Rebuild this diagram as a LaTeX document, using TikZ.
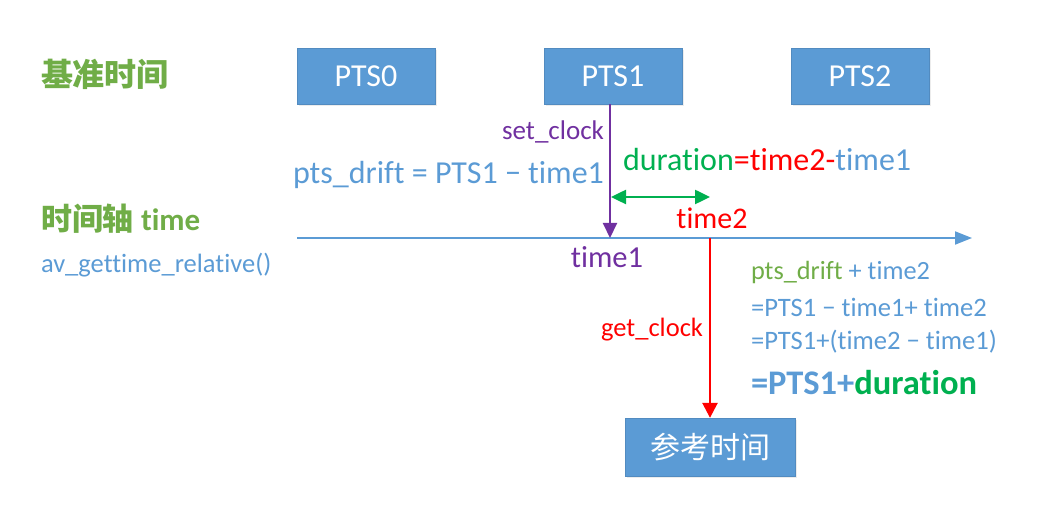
\documentclass[tikz,border=0pt]{standalone}
\usepackage{fontspec}
\setmainfont{Carlito}[Ligatures={NoCommon}]
\newfontfamily\cjk{Noto Sans CJK SC}
\usetikzlibrary{arrows.meta,shadows}
\definecolor{boxblue}{HTML}{5B9BD5}
\definecolor{txtblue}{HTML}{5B9BD5}
\definecolor{hdrgreen}{HTML}{70AD47}
\definecolor{durgreen}{HTML}{00B050}
\definecolor{ppl}{HTML}{7030A0}
\definecolor{rd}{HTML}{FF0000}
\newcommand{\fs}[1]{\fontsize{#1}{#1}\selectfont}
\tikzset{
  ptsbox/.style={fill=boxblue, draw=boxblue!90!black, line width=0.3pt, text=white,
    minimum width=138pt, minimum height=56pt, inner sep=0pt, font=\fs{32},
    drop shadow={opacity=0.15, shadow xshift=1.5pt, shadow yshift=-2.5pt}},
  lbl/.style={inner sep=0pt, outer sep=0pt},
}
\begin{document}
\begin{tikzpicture}[x=1pt,y=-1pt]
\useasboundingbox (0,0) rectangle (1058,510);
% boxes
\node[ptsbox] (p0) at (366,76) {PTS0};
\node[ptsbox] (p1) at (613,76) {PTS1};
\node[ptsbox] (p2) at (860,76) {PTS2};
\node[ptsbox, minimum width=170pt, minimum height=58pt, font=\cjk\fs{30}] (ref) at (710,447) {参考时间};
% coordinates
\coordinate (axL) at (297,238);
\coordinate (axR) at (972,238);
\coordinate (t1) at (610,238);
\coordinate (t2) at (710,238);
\coordinate (d1) at (611,197);
\coordinate (d2) at (710,197);
% axis
\draw[txtblue, line width=2pt, -{Triangle[width=13pt,length=17pt]}] (axL) -- (axR);
% set_clock arrow
\draw[ppl, line width=2pt, -{Triangle[width=14pt,length=15pt]}] (t1 |- p1.south) -- (t1);
% get_clock arrow
\draw[rd, line width=2.5pt, -{Triangle[width=15pt,length=15pt]}] (t2) -- (ref.north);
% duration arrow
\draw[durgreen, line width=2.5pt, {Triangle[width=14pt,length=15pt]}-{Triangle[width=14pt,length=15pt]}] (d1) -- (d2);
% left headers
\node[lbl, anchor=west, text=hdrgreen, font=\cjk\bfseries\fs{32}] (h1) at (41,74) {基准时间};
\node[lbl, anchor=west, text=hdrgreen, font=\bfseries\fs{31}] (h2) at (41,219) {{\cjk 时间轴} time};
\node[lbl, anchor=west, text=txtblue, font=\fs{26.5}] (h3) at (41,265) {av\_gettime\_relative()};
% labels
\node[lbl, anchor=east, text=ppl, font=\fs{27}] (sc) at (604,132) {set\_clock};
\node[lbl, anchor=east, text=txtblue, font=\fs{32}] (pd) at (604,175) {pts\_drift = PTS1 − time1};
\node[lbl, anchor=west, font=\fs{32}] (dur) at (623,160) {\textcolor{durgreen}{duration}\textcolor{rd}{=time2-}\textcolor{txtblue}{time1}};
\node[lbl, text=rd, font=\fs{30}] (lt2) at (712,218) {time2};
\node[lbl, text=ppl, font=\fs{30.5}] (lt1) at (607,257) {time1};
\node[lbl, anchor=east, text=rd, font=\fs{26.5}] (gc) at (703,330) {get\_clock};
% right equations
\node[lbl, anchor=west, text=txtblue, font=\fs{26.3}] (e1) at (751,272) {\textcolor{hdrgreen}{pts\_drift} + time2};
\node[lbl, anchor=west, text=txtblue, font=\fs{26.6}] (e2) at (751,307) {=PTS1 − time1+ time2};
\node[lbl, anchor=west, text=txtblue, font=\fs{26.6}] (e3) at (751,342) {=PTS1+(time2 − time1)};
\node[lbl, anchor=west, text=txtblue, font=\bfseries\fs{34.5}] (e4) at (751,383) {=PTS1+\textcolor{durgreen}{duration}};
\end{tikzpicture}
\end{document}
